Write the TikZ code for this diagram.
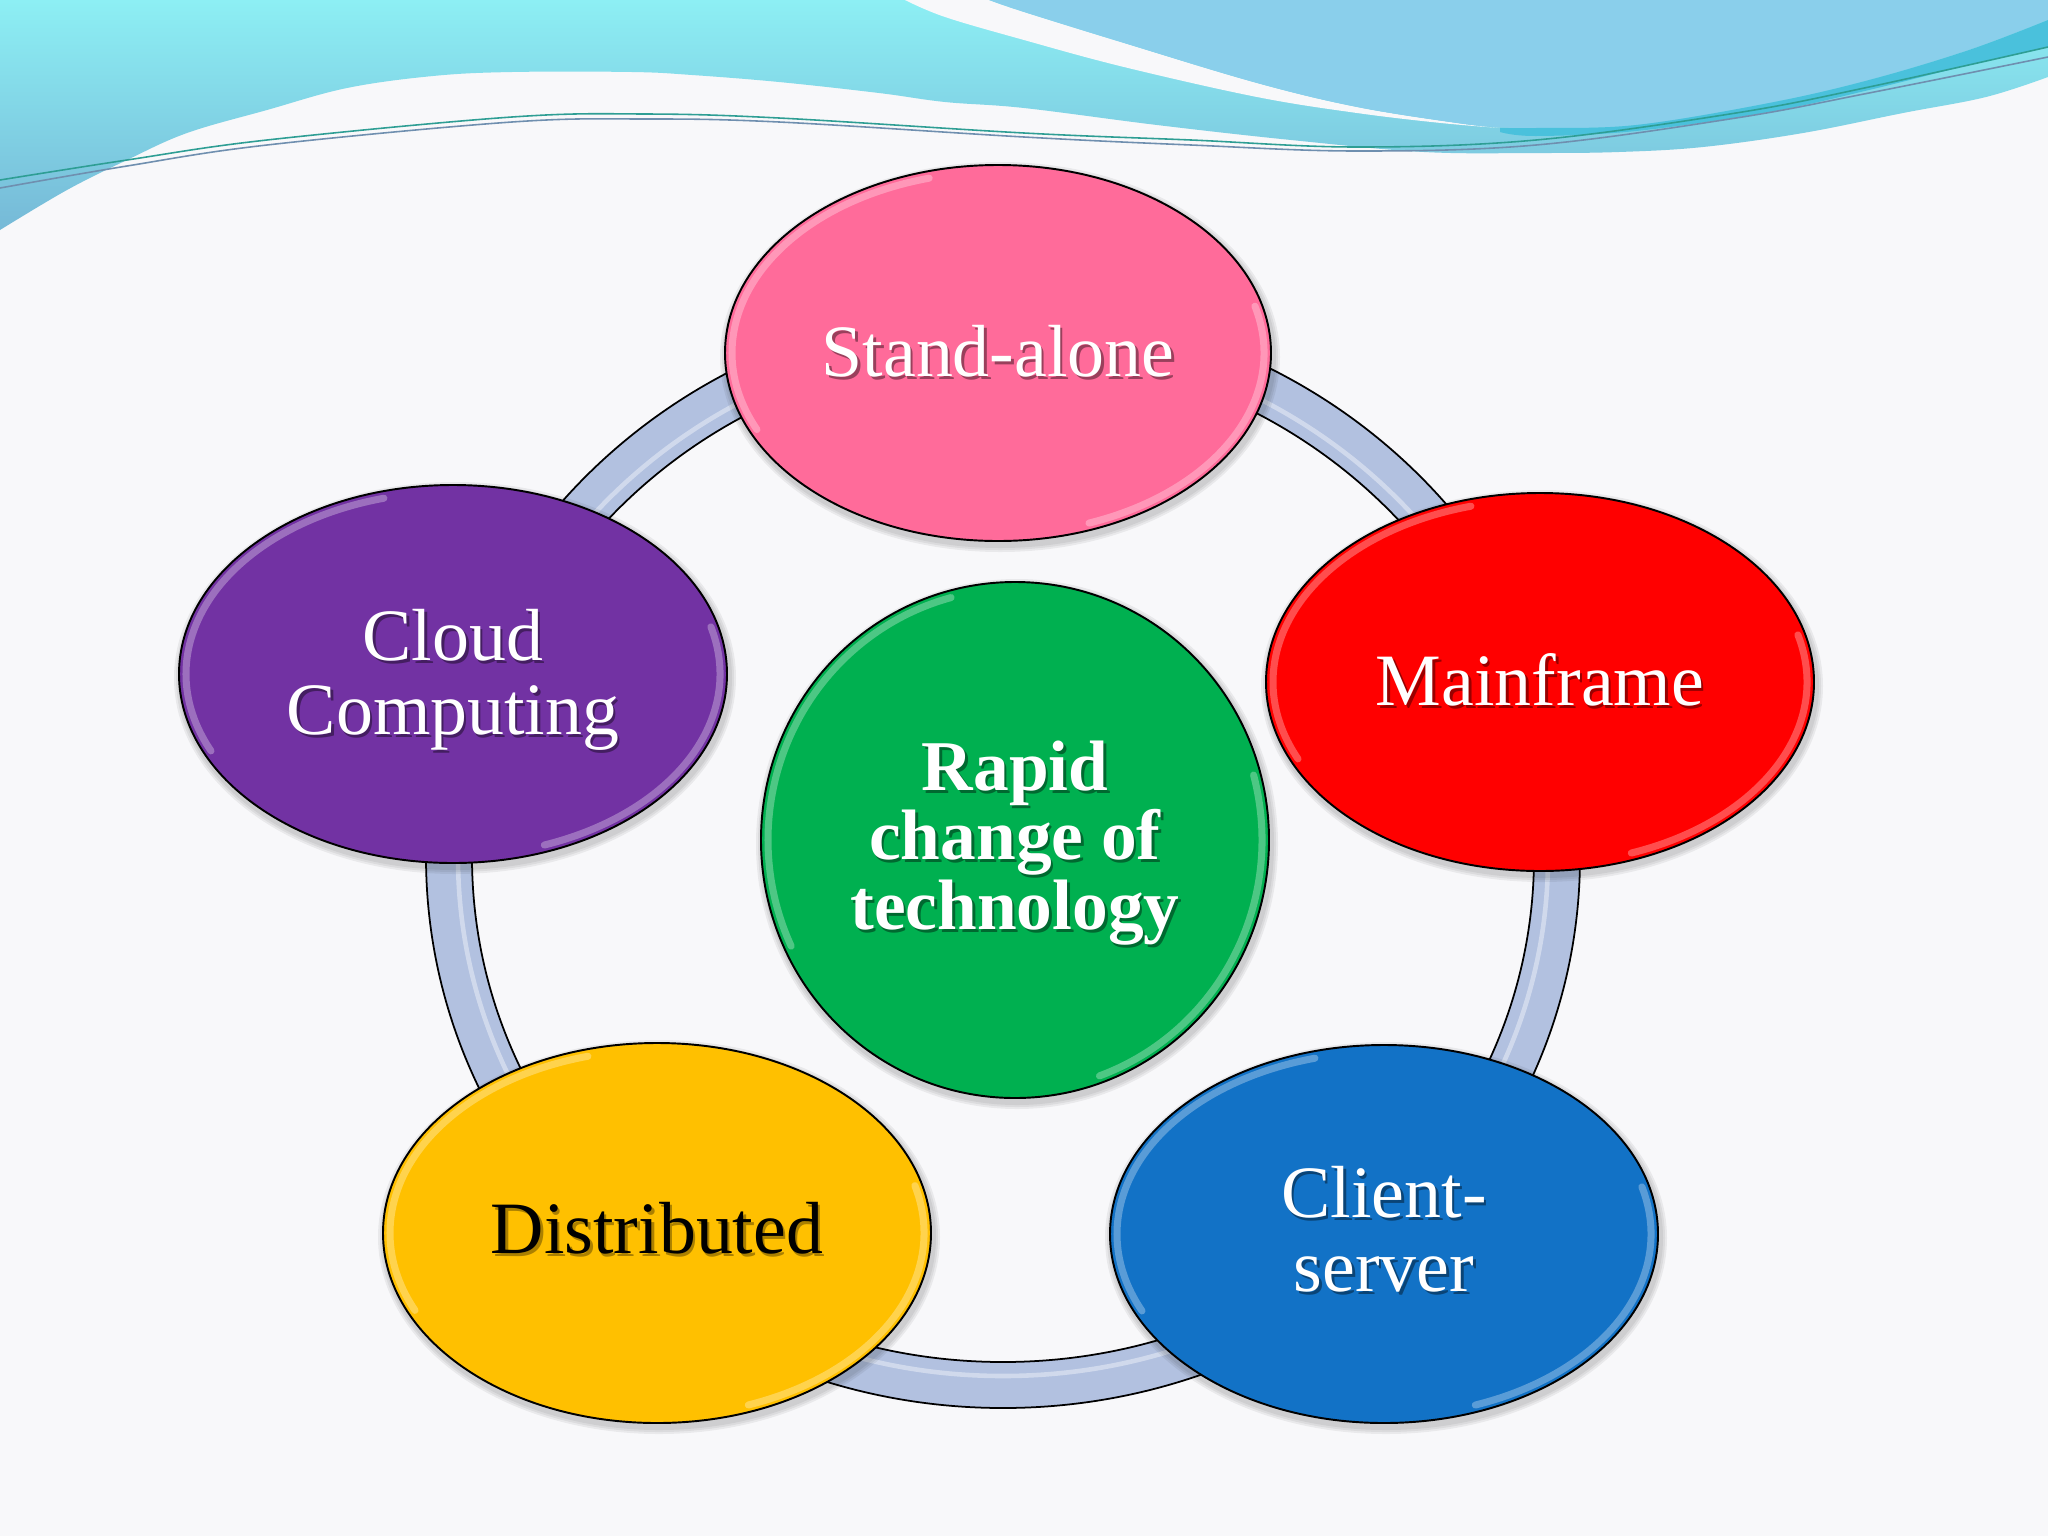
\documentclass[tikz,border=0pt]{standalone}
\usepackage{fontspec}
\setmainfont{Liberation Serif}
\usetikzlibrary{shapes.geometric}
\definecolor{bgc}{HTML}{F8F8FA}
\definecolor{cyantop}{HTML}{8DEFF4}
\definecolor{cyanbot}{HTML}{76B9D7}
\definecolor{lblue}{HTML}{8ACFEB}
\definecolor{streak}{HTML}{4AC1DC}
\definecolor{lineA}{HTML}{2E9E94}
\definecolor{lineB}{HTML}{6F8FAF}
\definecolor{ringc}{HTML}{B2C1E0}
\definecolor{pinkc}{HTML}{FF6B9A}
\definecolor{redc}{HTML}{FF0000}
\definecolor{bluec}{HTML}{1272C6}
\definecolor{yelc}{HTML}{FFC000}
\definecolor{purc}{HTML}{7232A3}
\definecolor{grnc}{HTML}{00B050}
\tikzset{
  bubble/.style={ellipse, draw=black, line width=0.55pt, inner sep=0pt, outer sep=0pt},
  lbl/.style={text=white, align=center, inner sep=0pt, font=\fontsize{21}{21}\selectfont},
  lblsh/.style={lbl, text=black, text opacity=0.4},
  dlbl/.style={lbl, text=black},
  dlblsh/.style={lbl, text=black!60!yelc, text opacity=0.55},
  clbl/.style={text=white, align=center, inner sep=0pt, font=\bfseries\fontsize{20.3}{19.8}\selectfont},
  clblsh/.style={clbl, text=black, text opacity=0.4},
  hl/.style={white, opacity=0.3, line width=2pt, line cap=round},
  shd/.style={black, opacity=0.06},
  thinA/.style={lineA, line width=0.45pt},
  thinB/.style={lineB, line width=0.45pt},
}
\newcommand\mybub[6]{%
  \foreach \k in {7,5,3} {\fill[shd] (#2+2,#3+4) ellipse [x radius=#4+\k, y radius=#5+\k];}
  \node[bubble, fill=#6, minimum width={2*#4*0.01cm}, minimum height={2*#5*0.01cm}] (#1) at (#2,#3) {};
  \draw[hl] ({#2+(#4-7)*cos(105)},{#3-(#5-7)*sin(105)}) arc[start angle=105, end angle=205, x radius=#4-7, y radius=-(#5-7)];
  \draw[hl] ({#2+(#4-7)*cos(-70)},{#3-(#5-7)*sin(-70)}) arc[start angle=-70, end angle=15, x radius=#4-7, y radius=-(#5-7)];
}
\newcommand\mylabel[6]{%
  \node[#5] (#1sh) at (#2+2.5,#3+3) {#4};
  \node[#6] (#1) at (#2,#3) {#4};
}
\begin{document}
\begin{tikzpicture}[x=0.01cm,y=-0.01cm]
\useasboundingbox (0,0) rectangle (2048,1536);
\fill[bgc] (0,0) rectangle (2048,1536);
% cyan wave
\shade[top color=cyantop, bottom color=cyanbot]
  (0,0) -- (2048,0) -- (2048,77) -- plot[smooth, tension=0.6] coordinates {
  (2048,77) (1986,97) (1903,113) (1803,133) (1703,147) (1619,152) (1536,153)
  (1424,152) (1291,140) (1157,125) (1024,108) (945,102) (879,93) (779,82)
  (692,75) (632,72) (512,72) (433,76) (347,88) (267,110) (187,133) (127,160)
  (67,190) (0,230)} -- cycle;
% white gap
\fill[bgc] plot[smooth, tension=0.6] coordinates {(905,0) (945,17) (1024,40) (1124,67) (1257,97) (1357,113) (1441,123) (1500,128)}
  -- plot[smooth, tension=0.6] coordinates {(1500,128) (1457,123) (1357,107) (1257,83) (1124,43) (1024,12) (989,0)} -- cycle;
% light blue region
\fill[lblue] (989,0) -- (2048,0) -- (2048,20) -- plot[smooth, tension=0.6] coordinates {
  (2048,20) (1969,50) (1869,80) (1769,103) (1636,125) (1536,128) (1497,127) (1457,123)
  (1357,107) (1257,83) (1124,43) (1024,12) (989,0)} -- cycle;
% darker streak
\fill[streak] plot[smooth, tension=0.6] coordinates {(1500,128) (1536,128) (1636,125) (1769,103) (1869,80) (1969,50) (2048,20)}
  -- (2048,47) -- plot[smooth, tension=0.6] coordinates {(2048,47) (1969,65) (1869,90) (1769,112) (1636,131) (1536,136) (1500,132)} -- cycle;
% thin swoosh lines
\draw[thinA] plot[smooth, tension=0.6] coordinates {(0,180) (127,160) (267,140) (512,117) (645,114) (779,118) (1024,133) (1191,140) (1357,147) (1536,140) (1736,113) (1869,87) (2048,47)};
\draw[thinB] plot[smooth, tension=0.6] coordinates {(0,188) (127,166) (267,145) (512,122) (645,119) (779,122) (1024,137) (1191,145) (1357,151) (1536,145) (1736,118) (1869,93) (2048,57)};
% ring
\fill[ringc, even odd rule] (1003,857) ellipse [x radius=577, y radius=551] (1003,857) ellipse [x radius=531, y radius=505];
\draw[white, opacity=0.4, line width=1.3pt] (1003,857) ellipse [x radius=545, y radius=519];
\draw[black, line width=0.5pt] (1003,857) ellipse [x radius=577, y radius=551];
\draw[black, line width=0.5pt] (1003,857) ellipse [x radius=531, y radius=505];
% bubbles
\mybub{sa}{998}{353}{273}{188}{pinkc}
\mybub{mf}{1540}{682}{274}{189}{redc}
\mybub{cs}{1384}{1234}{274}{189}{bluec}
\mybub{di}{657}{1233}{274}{190}{yelc}
\mybub{cc}{453}{674}{274}{189}{purc}
\mybub{rc}{1015}{840}{254}{258}{grnc}
% labels
\mylabel{salbl}{998}{351}{Stand-alone}{lblsh}{lbl}
\mylabel{mflbl}{1540}{680}{Mainframe}{lblsh}{lbl}
\mylabel{cslbl}{1384}{1229}{Client-\\server}{lblsh}{lbl}
\mylabel{dilbl}{657}{1228}{Distributed}{dlblsh}{dlbl}
\mylabel{cclbl}{453}{680}{Cloud\\Computing}{lblsh}{lbl}
\mylabel{rclbl}{1015}{843}{Rapid\\change of\\technology}{clblsh}{clbl}
\end{tikzpicture}
\end{document}
